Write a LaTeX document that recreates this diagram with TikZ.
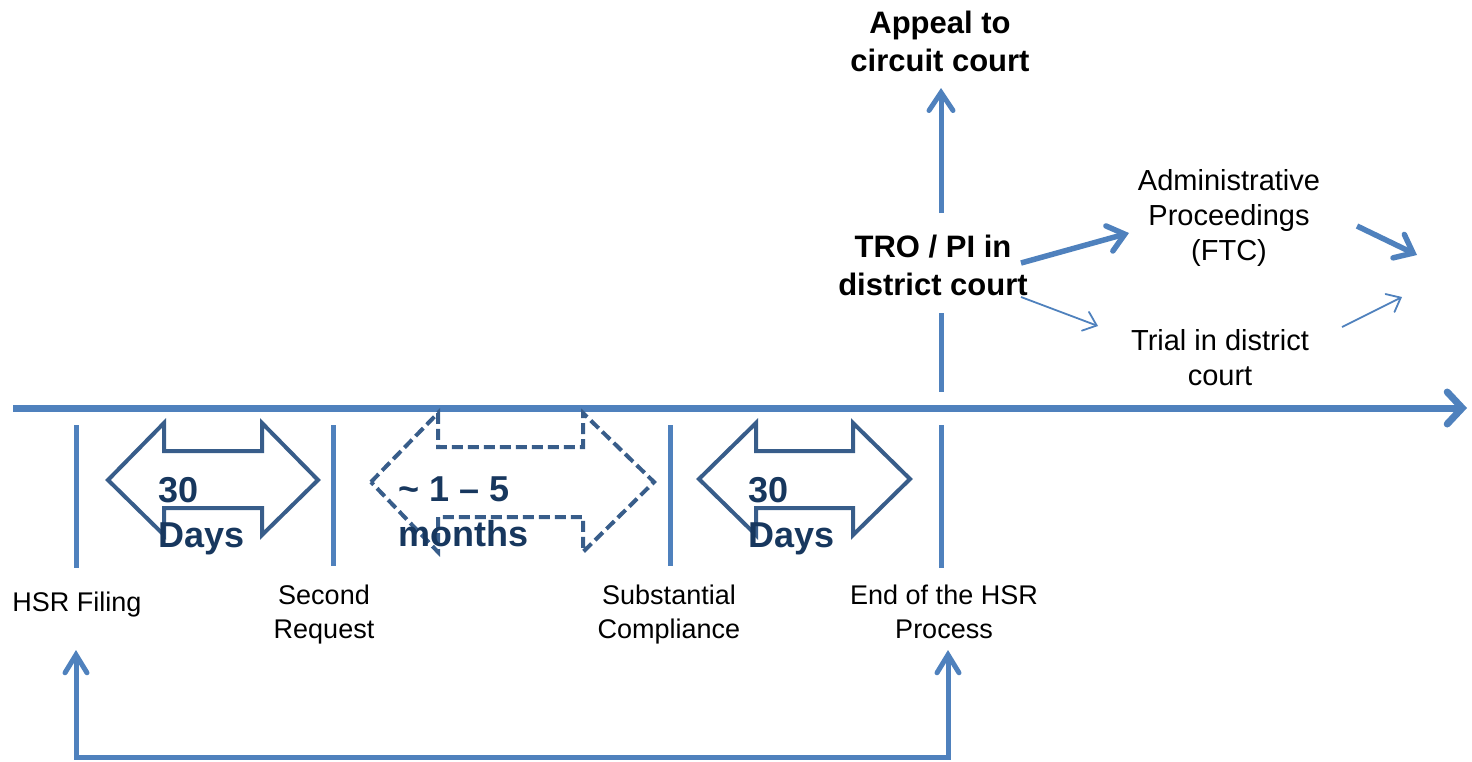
\documentclass[tikz,border=0pt]{standalone}
\usepackage{fontspec}
\setmainfont{Liberation Sans}
\usetikzlibrary{arrows.meta}
\definecolor{lineblue}{RGB}{79,129,189}
\definecolor{outl}{RGB}{56,93,138}
\definecolor{navy}{RGB}{23,55,94}
\begin{document}
\begin{tikzpicture}[x=1pt,y=-1pt,
  axisline/.style={draw=lineblue,line width=7pt},
  tickline/.style={draw=lineblue,line width=5pt},
  bigtip/.style={-{Straight Barb[length=15pt,width=32pt,line cap=round]}},
  uptip/.style={-{Straight Barb[length=18pt,width=24pt,line cap=round]}},
  thicktip/.style={draw=lineblue,line width=5.5pt,-{Straight Barb[length=16pt,width=26pt,line cap=round]}},
  thintip/.style={draw=lineblue,line width=1.8pt,-{Straight Barb[length=12pt,width=20pt,line cap=round]}},
  hollow/.style={draw=outl,line width=4pt,line join=miter},
  hollowdash/.style={hollow,dash pattern=on 11pt off 5pt},
  lbl/.style={inner sep=0pt,align=center,font=\fontsize{27}{34}\selectfont},
  rlbl/.style={inner sep=0pt,align=center,font=\fontsize{29}{35}\selectfont},
  blbl/.style={inner sep=0pt,align=center,font=\fontsize{31}{37.5}\selectfont\bfseries},
  dur/.style={inner sep=0pt,align=left,text=navy,font=\fontsize{36}{45}\selectfont\bfseries},
]
\useasboundingbox (0,0) rectangle (1472,761);

% timeline
\coordinate (tstart) at (13,408);
\coordinate (tend) at (1467,408);
\draw[axisline,bigtip] (tstart) -- (tend);

% ticks
\draw[tickline] (76,425) -- (76,568);
\draw[tickline] (333,425) -- (333,566);
\draw[tickline] (670,425) -- (670,566);
\draw[tickline] (941,425) -- (941,568);

% hollow double arrows
\draw[hollow] (108,480) -- (164,423) -- (164,451) -- (262,451) -- (262,423) -- (318,480)
  -- (262,535) -- (262,508) -- (164,508) -- (164,535) -- cycle;
\draw[hollowdash] (371,482) -- (438,413) -- (438,447) -- (583,447) -- (583,413) -- (654,482)
  -- (583,552) -- (583,517) -- (438,517) -- (438,552) -- cycle;
\draw[hollow] (699,479) -- (756,423) -- (756,451) -- (853,451) -- (853,423) -- (910,479)
  -- (853,535) -- (853,508) -- (756,508) -- (756,535) -- cycle;

\node[dur,anchor=north west] (d1) at (158,477) {30\\Days};
\node[dur,anchor=north west] (d2) at (398,477) {\textasciitilde\ 1 – 5\\months};
\node[dur,anchor=north west] (d3) at (748,477) {30\\Days};

% bottom labels
\node[lbl,anchor=north] (hsr) at (77,591.5) {HSR Filing};
\node[lbl,anchor=north] (sec) at (324,585) {Second\\Request};
\node[lbl,anchor=north] (sub) at (669,585) {Substantial\\Compliance};
\node[lbl,anchor=north] (endp) at (944,585) {End of the HSR\\Process};

% bottom bracket
\coordinate (btip1) at (76,650);
\coordinate (bc1) at (76,757);
\coordinate (bc2) at (948,757);
\coordinate (btip2) at (948,650);
\draw[draw=lineblue,line width=5pt,{Straight Barb[length=18pt,width=22pt,line cap=round]}-{Straight Barb[length=18pt,width=22pt,line cap=round]}]
  (btip1) -- (bc1) -- (bc2) -- (btip2);

% upper part
\node[blbl,anchor=north] (appeal) at (940,11) {Appeal to\\circuit court};
\node[blbl,anchor=north] (tro) at (933,235) {TRO / PI in\\district court};
\coordinate (vlow) at (941,392);
\coordinate (vtro) at (941,313);
\draw[tickline] (vtro) -- (vlow);
\coordinate (aplow) at (941,213);
\coordinate (aptip) at (941,88);
\draw[draw=lineblue,line width=5pt,uptip] (aplow) -- (aptip);

\node[rlbl,anchor=north] (adm) at (1229,169) {Administrative\\Proceedings\\(FTC)};
\node[rlbl,anchor=north] (trial) at (1220,329) {Trial in district\\court};

\coordinate (a1s) at (1021,263);
\coordinate (a1e) at (1129,233);
\coordinate (a2s) at (1021,297);
\coordinate (a2e) at (1098,326);
\coordinate (a3s) at (1357,226);
\coordinate (a3e) at (1417,255);
\coordinate (a4s) at (1342,327);
\coordinate (a4e) at (1402,297);
\draw[thicktip] (a1s) -- (a1e);
\draw[thintip] (a2s) -- (a2e);
\draw[thicktip] (a3s) -- (a3e);
\draw[thintip] (a4s) -- (a4e);
\end{tikzpicture}
\end{document}
